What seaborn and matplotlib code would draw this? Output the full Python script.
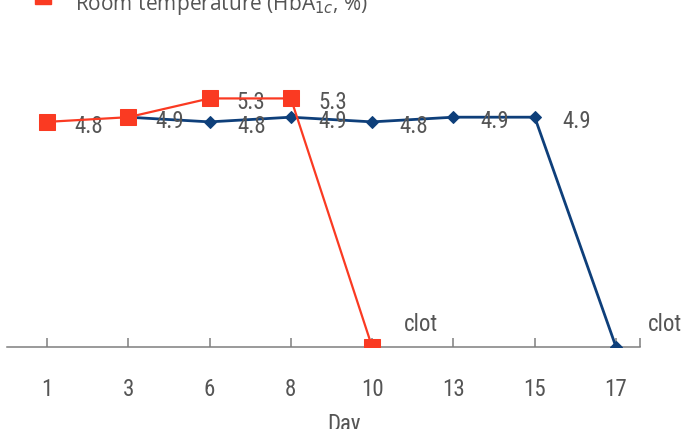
import numpy as np
import pandas as pd
import matplotlib
matplotlib.use("Agg")
import matplotlib.pyplot as plt
from matplotlib.lines import Line2D
import seaborn as sns

# ===================== Data =====================
days = ["1", "3", "6", "8", "10", "13", "15", "17"]

# room temperature sample (clotted on day 10 -> drawn on the axis)
room_days = ["1", "3", "6", "8", "10"]
room_values = [4.8, 4.9, 5.3, 5.3, 0.0]
room_labels = ["4.8", "4.9", "5.3", "5.3", "clot"]

# second sample (clotted on day 17)
cold_days = ["3", "6", "8", "10", "13", "15", "17"]
cold_values = [4.9, 4.8, 4.9, 4.8, 4.9, 4.9, 0.0]
cold_labels = ["4.9", "4.8", "4.9", "4.8", "4.9", "4.9", "clot"]

legend_label = "Room temperature (HbA$_{1c}$, %)"

RED = "#FA3A22"
BLUE = "#0E3F7A"
GREY_TXT = "#555555"
GREY_AX = "#7F7F7F"

# ===================== Frames =====================
pos = {d: i for i, d in enumerate(days)}
room = pd.DataFrame({"pos": [pos[d] for d in room_days], "val": room_values, "lab": room_labels})
cold = pd.DataFrame({"pos": [pos[d] for d in cold_days], "val": cold_values, "lab": cold_labels})

sns.set_style("white")
plt.rcParams["font.family"] = ["Roboto Condensed", "DejaVu Sans"]
FS = 16.5

fig = plt.figure(figsize=(6.88, 4.29), dpi=100)
ax = fig.add_axes([0.0, 82 / 429, 1.0, 347 / 429])

sns.lineplot(data=cold, x="pos", y="val", ax=ax, color=BLUE, lw=2.0,
             marker="D", markersize=6.5, markeredgecolor=BLUE, zorder=3)
sns.lineplot(data=room, x="pos", y="val", ax=ax, color=RED, lw=1.6,
             marker="s", markersize=12, markeredgecolor=RED, zorder=4)

# ===================== Point labels =====================
cold_lookup = dict(zip(cold["pos"], cold["val"]))
for frame, is_room in [(cold, False), (room, True)]:
    for p, v, lab in zip(frame["pos"], frame["val"], frame["lab"]):
        if is_room and cold_lookup.get(p) == v:
            continue  # same label already written for the other sample
        if lab == "clot":
            off = (35, 16)
        else:
            off = (30, -3)
        ax.annotate(lab, (p, v), xytext=off, textcoords="offset points",
                    ha="center", va="center", fontsize=FS, color=GREY_TXT)

# ===================== Axes styling =====================
px = 81.29  # pixels per category
ax.set_xlim(-47 / px, 641 / px)
ax.set_ylim(0, 347 / 46.9)
end = 593 / px
ax.set_xticks(list(range(len(days))) + [end])
ax.set_xticklabels(days + [""])
ax.tick_params(axis="x", bottom=True, direction="in", length=6.5, width=1.1, color=GREY_AX,
               labelsize=FS, labelcolor=GREY_TXT, pad=22)
ax.set_yticks([])
ax.set_ylabel("")
ax.set_xlabel("Day", fontsize=FS, color=GREY_TXT, labelpad=9)
sns.despine(ax=ax, left=True, top=True, right=True)
ax.spines["bottom"].set_color(GREY_AX)
ax.spines["bottom"].set_linewidth(1.1)
ax.spines["bottom"].set_bounds(-40 / px, end)
ax.spines["bottom"].set_zorder(1)
ax.patch.set_alpha(0)

# legend swatch + text (only the room temperature entry is in frame)
fig.add_artist(Line2D([43 / 688], [1 + 4 / 429], transform=fig.transFigure, marker="s",
                      markersize=12, color=RED, linestyle="none", clip_on=False))
fig.text(75 / 688, 1 - 10 / 429, legend_label, ha="left", va="baseline", fontsize=15,
         color=GREY_TXT, family=["Open Sans", "DejaVu Sans"])

fig.savefig("out.png", dpi=100)
